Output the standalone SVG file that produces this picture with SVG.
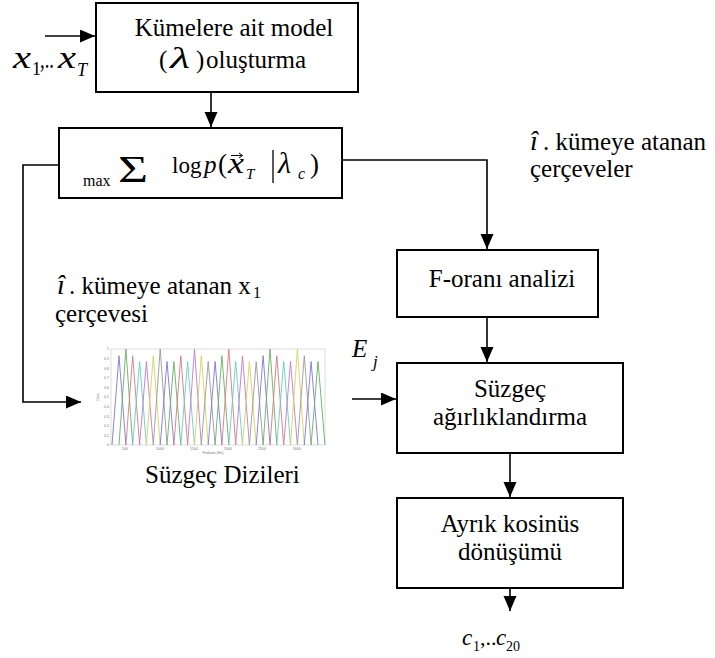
<svg xmlns="http://www.w3.org/2000/svg" width="715" height="658" viewBox="0 0 715 658">
  <style>
    .box { fill: #fff; stroke: #000; stroke-width: 2; }
    .t { font-family: 'Liberation Serif', 'Times New Roman', serif; font-size: 25px; fill: #000; }
    .m { font-family: 'Liberation Serif', 'Times New Roman', serif; font-style: italic; fill: #000; }
    .r { font-family: 'Liberation Serif', 'Times New Roman', serif; fill: #000; }
    .c { text-anchor: middle; }
    .wire { fill: none; stroke: #000; stroke-width: 1.6; }
    .flt { fill: none; stroke-width: 0.9; }
    .tick { font-family: 'Liberation Sans', Arial, sans-serif; font-size: 3.6px; fill: #777; }
  </style>
  <defs>
    <marker id="arrow" markerUnits="userSpaceOnUse" markerWidth="16" markerHeight="14" refX="15" refY="6.5" orient="auto">
      <path d="M0,0 L15,6.5 L0,13 Z" fill="#000"/>
    </marker>
  </defs>

  <rect width="715" height="658" fill="#fff"/>

  <!-- connectors -->
  <g id="connectors">
    <path class="wire" d="M45,36 L95,36" marker-end="url(#arrow)"/>
    <path class="wire" d="M211,92 L211,127" marker-end="url(#arrow)"/>
    <path class="wire" d="M59,165 L23,165 L23,402 L81,402" marker-end="url(#arrow)"/>
    <path class="wire" d="M342,160 L487,160 L487,249" marker-end="url(#arrow)"/>
    <path class="wire" d="M487,317 L487,362" marker-end="url(#arrow)"/>
    <path class="wire" d="M352,399 L396,399" marker-end="url(#arrow)"/>
    <path class="wire" d="M510,453 L510,497" marker-end="url(#arrow)"/>
    <path class="wire" d="M510,588 L510,611" marker-end="url(#arrow)"/>
  </g>

  <!-- input sequence -->
  <g id="input">
    <text class="m" x="13" y="68" font-size="32" textLength="18" lengthAdjust="spacingAndGlyphs">x</text>
    <text class="r" x="32" y="75" font-size="18">1</text>
    <text class="r" x="40" y="68" font-size="28" textLength="14" lengthAdjust="spacingAndGlyphs">,..</text>
    <text class="m" x="58" y="68" font-size="32" textLength="18" lengthAdjust="spacingAndGlyphs">x</text>
    <text class="m" x="77" y="76" font-size="18">T</text>
  </g>

  <!-- model building -->
  <g id="model">
    <rect class="box" x="96" y="3" width="262" height="89"/>
    <text class="t c" x="234" y="36">Kümelere ait model</text>
    <text class="t" x="159" y="68">(</text>
    <text class="m" x="170" y="68" font-size="29" textLength="20" lengthAdjust="spacingAndGlyphs">λ</text>
    <text class="t" x="196" y="68">)</text>
    <text class="t" x="206" y="68">oluşturma</text>
  </g>

  <!-- max likelihood cluster selection -->
  <g id="argmax">
    <rect class="box" x="59" y="128" width="283" height="70"/>
    <text class="r" x="83" y="186" font-size="16">max</text>
    <text class="r" x="118" y="182" font-size="38" textLength="30" lengthAdjust="spacingAndGlyphs">Σ</text>
    <text class="r" x="172" y="173" font-size="23">log</text>
    <text class="m" x="204" y="173" font-size="25">p</text>
    <text class="r" x="218" y="173" font-size="27">(</text>
    <text class="m" x="228" y="173" font-size="29" textLength="16" lengthAdjust="spacingAndGlyphs">x</text>
    <path d="M231,155.5 L242,155.5 M239,153 L242.5,155.5 L239,158" fill="none" stroke="#000" stroke-width="1"/>
    <text class="m" x="246" y="179" font-size="15">T</text>
    <line x1="273" y1="150" x2="273" y2="183" stroke="#000" stroke-width="1.3"/>
    <text class="m" x="278" y="173" font-size="30">λ</text>
    <text class="m" x="298" y="179" font-size="16">c</text>
    <text class="r" x="310" y="173" font-size="27">)</text>
  </g>

  <!-- edge labels -->
  <g id="label-right">
    <text class="m" x="530" y="150" font-size="28">î</text>
    <text class="t" x="543" y="150">. kümeye atanan</text>
    <text class="t" x="530" y="177">çerçeveler</text>
  </g>
  <g id="label-left">
    <text class="m" x="57" y="294" font-size="28">î</text>
    <text class="t" x="69" y="294">. kümeye atanan x</text>
    <text class="r" x="253" y="298" font-size="16">1</text>
    <text class="t" x="55" y="322">çerçevesi</text>
  </g>
  <g id="label-energy">
    <text class="m" x="352" y="357" font-size="25">E</text>
    <text class="m" x="373" y="367" font-size="17">j</text>
  </g>

  <!-- F-ratio analysis -->
  <g id="fratio">
    <rect class="box" x="397" y="250" width="201" height="67"/>
    <text class="t c" x="502" y="287">F-oranı analizi</text>
  </g>

  <!-- filter weighting -->
  <g id="weighting">
    <rect class="box" x="397" y="363" width="226" height="90"/>
    <text class="t c" x="510" y="397">Süzgeç</text>
    <text class="t c" x="510" y="425">ağırlıklandırma</text>
  </g>

  <!-- discrete cosine transform -->
  <g id="dct">
    <rect class="box" x="397" y="498" width="226" height="90"/>
    <text class="t c" x="510" y="532">Ayrık kosinüs</text>
    <text class="t c" x="510" y="560">dönüşümü</text>
  </g>

  <!-- output coefficients -->
  <g id="output">
    <text class="m" x="462" y="645" font-size="23">c</text>
    <text class="r" x="473" y="651" font-size="14">1</text>
    <text class="r" x="480" y="645" font-size="22">,..</text>
    <text class="m" x="496" y="645" font-size="23">c</text>
    <text class="r" x="506" y="651" font-size="14">20</text>
  </g>

  <!-- filter bank plot -->
  <g id="filterbank">
    <rect x="111" y="349" width="214" height="96" fill="#fff" stroke="#c8c8c8" stroke-width="0.6"/>
    <g class="flt">
      <polyline stroke="#7a7ad6" points="112,445 119,355.7 125.9,445"/>
      <polyline stroke="#66b066" points="119,445 125.9,349 132.7,445"/>
      <polyline stroke="#d87a7a" points="125.9,445 132.7,355.7 139.6,445"/>
      <polyline stroke="#66cccc" points="132.7,445 139.6,361.5 146.4,445"/>
      <polyline stroke="#c47ac4" points="139.6,445 146.4,361.5 153.3,445"/>
      <polyline stroke="#d4d460" points="146.4,445 153.3,355.7 160.2,445"/>
      <polyline stroke="#9a9a9a" points="153.3,445 160.2,349 167,445"/>
      <polyline stroke="#7a7ad6" points="160.2,445 167,361.5 173.9,445"/>
      <polyline stroke="#66b066" points="167,445 173.9,361.5 180.8,445"/>
      <polyline stroke="#d87a7a" points="173.9,445 180.8,355.7 187.6,445"/>
      <polyline stroke="#66cccc" points="180.8,445 187.6,361.5 194.5,445"/>
      <polyline stroke="#c47ac4" points="187.6,445 194.5,349 201.3,445"/>
      <polyline stroke="#d4d460" points="194.5,445 201.3,355.7 208.2,445"/>
      <polyline stroke="#9a9a9a" points="201.3,445 208.2,361.5 215.1,445"/>
      <polyline stroke="#7a7ad6" points="208.2,445 215.1,361.5 221.9,445"/>
      <polyline stroke="#66b066" points="215.1,445 221.9,355.7 228.8,445"/>
      <polyline stroke="#d87a7a" points="221.9,445 228.8,349 235.7,445"/>
      <polyline stroke="#66cccc" points="228.8,445 235.7,361.5 242.5,445"/>
      <polyline stroke="#c47ac4" points="235.7,445 242.5,355.7 249.4,445"/>
      <polyline stroke="#d4d460" points="242.5,445 249.4,361.5 256.2,445"/>
      <polyline stroke="#9a9a9a" points="249.4,445 256.2,361.5 263.1,445"/>
      <polyline stroke="#7a7ad6" points="256.2,445 263.1,355.7 270,445"/>
      <polyline stroke="#66b066" points="263.1,445 270,349 276.8,445"/>
      <polyline stroke="#d87a7a" points="270,445 276.8,355.7 283.7,445"/>
      <polyline stroke="#66cccc" points="276.8,445 283.7,361.5 290.5,445"/>
      <polyline stroke="#c47ac4" points="283.7,445 290.5,361.5 297.4,445"/>
      <polyline stroke="#d4d460" points="290.5,445 297.4,349 304.3,445"/>
      <polyline stroke="#9a9a9a" points="297.4,445 304.3,355.7 311.1,445"/>
      <polyline stroke="#7a7ad6" points="304.3,445 311.1,361.5 318,445"/>
      <polyline stroke="#66b066" points="311.1,445 318,361.5 325,445"/>
    </g>
    <g class="tick" text-anchor="end">
      <text x="109" y="350.3">1</text>
      <text x="109" y="359.9">0.9</text>
      <text x="109" y="369.5">0.8</text>
      <text x="109" y="379.1">0.7</text>
      <text x="109" y="388.7">0.6</text>
      <text x="109" y="398.3">0.5</text>
      <text x="109" y="407.9">0.4</text>
      <text x="109" y="417.5">0.3</text>
      <text x="109" y="427.1">0.2</text>
      <text x="109" y="436.7">0.1</text>
      <text x="109" y="446.3">0</text>
    </g>
    <g class="tick" text-anchor="middle">
      <text x="125" y="450">500</text>
      <text x="160" y="450">1000</text>
      <text x="194" y="450">1500</text>
      <text x="228" y="450">2000</text>
      <text x="262" y="450">2500</text>
      <text x="297" y="450">3000</text>
      <text x="213" y="454">Frekans (Hz)</text>
      <text x="0" y="0" transform="translate(99,397) rotate(-90)">Gain</text>
    </g>
    <text class="t" x="145" y="483">Süzgeç Dizileri</text>
  </g>
</svg>
